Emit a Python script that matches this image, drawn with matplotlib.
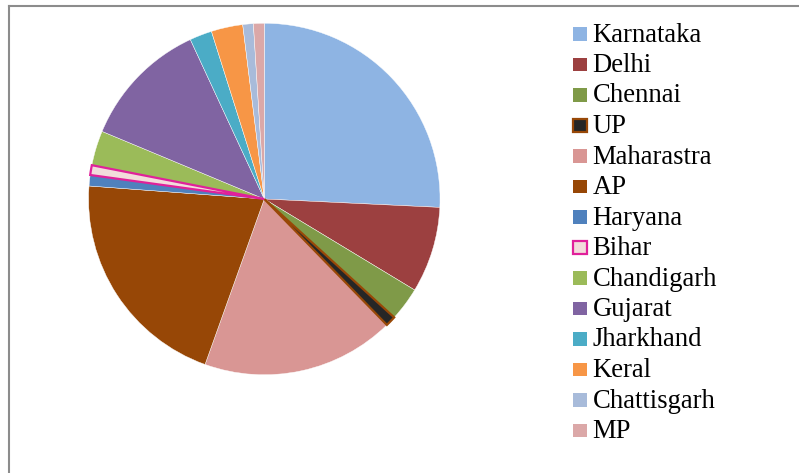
import matplotlib
matplotlib.use("Agg")
import matplotlib.pyplot as plt
from matplotlib.patches import Rectangle
from matplotlib.lines import Line2D

states = ["Karnataka", "Delhi", "Chennai", "UP", "Maharastra", "AP", "Haryana",
          "Bihar", "Chandigarh", "Gujarat", "Jharkhand", "Keral", "Chattisgarh", "MP"]
shares = [25.75, 7.9, 3.1, 0.95, 17.75, 20.7, 1.0, 0.9, 3.2, 11.8, 2.05, 2.9, 0.97, 0.99]
fill_colors = ["#8EB4E3", "#9C4040", "#7F9A48", "#262626", "#D99694", "#974706", "#4F81BD",
               "#F2DCDB", "#9BBB59", "#8064A2", "#4BACC6", "#F79646", "#A8BBDA", "#DBA8A8"]
edge_colors = [None, None, None, "#984807", None, None, None,
               "#E0219A", None, None, None, None, None, None]

W, H = 799, 473
fig = plt.figure(figsize=(W / 100, H / 100), dpi=100)
fig.patch.set_facecolor("white")

# frame lines (left & top)
fig.add_artist(Line2D([8.5 / W, 8.5 / W], [0, 1 - 6.5 / H], transform=fig.transFigure,
                      color="#8C8C8C", lw=1.5))
fig.add_artist(Line2D([8.5 / W, 1], [1 - 6.5 / H, 1 - 6.5 / H], transform=fig.transFigure,
                      color="#8C8C8C", lw=1.5))

cx, cy, r = 264.3, 199.0, 177.5
ax = fig.add_axes([(cx - r) / W, (H - cy - r) / H, 2 * r / W, 2 * r / H])
wedges, _ = ax.pie(shares, colors=fill_colors, startangle=90, counterclock=False,
                   radius=1.0, wedgeprops=dict(edgecolor="white", linewidth=0.3))
for w, ec in zip(wedges, edge_colors):
    if ec:
        w.set_edgecolor(ec)
        w.set_linewidth(1.6)
        w.set_zorder(3)
ax.set_xlim(-1.01, 1.01)
ax.set_ylim(-1.01, 1.01)
ax.set_aspect("equal")
ax.axis("off")

# legend drawn manually
font = dict(family="Liberation Serif", size=19.2)
y0, dy = 34.0, 30.5
sq = 13.5
for i, (lab, fc, ec) in enumerate(zip(states, fill_colors, edge_colors)):
    yc = y0 + i * dy
    rect = Rectangle(((573.3) / W, (H - yc - sq / 2) / H), sq / W, sq / H,
                     transform=fig.transFigure, facecolor=fc,
                     edgecolor=ec if ec else fc, linewidth=1.6 if ec else 0)
    fig.add_artist(rect)
    fig.text(592.5 / W, (H - yc - 1) / H, lab, ha="left", va="center", color="black", **font)

fig.savefig("out.png", dpi=100, facecolor="white")
